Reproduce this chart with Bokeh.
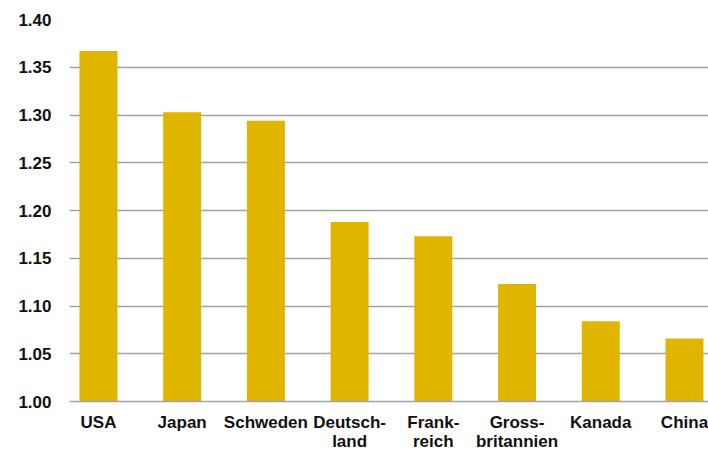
from bokeh.plotting import figure
from bokeh.models import FixedTicker, Range1d
from bokeh.embed import file_html
from bokeh.resources import INLINE

# Länder und Werte
countries = ["USA", "Japan", "Schweden", "Deutsch-\nland", "Frank-\nreich",
             "Gross-\nbritannien", "Kanada", "China"]
values = [1.367, 1.303, 1.294, 1.188, 1.173, 1.123, 1.084, 1.066]
y_ticks = [1.00, 1.05, 1.10, 1.15, 1.20, 1.25, 1.30, 1.35, 1.40]

BAR_COLOR = "#DFB500"
GRID_COLOR = "#A3A3A3"
TEXT_COLOR = "#111111"
FONT = "Liberation Sans"
FONT_SIZE = "17px"

xs = list(range(len(countries)))
BASE = y_ticks[0]

p = figure(width=708, height=453, output_backend="svg", toolbar_location=None,
           x_range=Range1d(-0.346, 7.287), y_range=Range1d(y_ticks[0], y_ticks[-1]),
           min_border_left=69, min_border_right=0, min_border_top=19,
           min_border_bottom=51)

p.vbar(x=xs, top=values, bottom=BASE, width=0.454, color=BAR_COLOR, line_color=None)

p.outline_line_color = None
p.background_fill_color = "white"
p.border_fill_color = "white"

# y axis: labels only, horizontal grid lines
p.yaxis.ticker = FixedTicker(ticks=y_ticks)
p.yaxis.major_label_overrides = {t: f"{t:.2f}" for t in y_ticks}
p.yaxis.axis_line_color = None
p.yaxis.major_tick_line_color = None
p.yaxis.minor_tick_line_color = None
p.yaxis.major_tick_out = 0
p.yaxis.major_tick_in = 0
p.yaxis.major_label_standoff = 18
p.yaxis.major_label_text_font = FONT
p.yaxis.major_label_text_font_style = "bold"
p.yaxis.major_label_text_font_size = FONT_SIZE
p.yaxis.major_label_text_color = TEXT_COLOR

p.ygrid.ticker = FixedTicker(ticks=y_ticks)
p.ygrid.grid_line_color = GRID_COLOR
p.ygrid.grid_line_width = 1.3
p.xgrid.grid_line_color = None

# x axis: base line and country names (two lines for long names)
p.xaxis.ticker = FixedTicker(ticks=xs)
p.xaxis.major_label_overrides = {i: c for i, c in zip(xs, countries)}
p.xaxis.axis_line_color = GRID_COLOR
p.xaxis.axis_line_width = 1.3
p.xaxis.major_tick_line_color = None
p.xaxis.minor_tick_line_color = None
p.xaxis.major_tick_out = 0
p.xaxis.major_tick_in = 0
p.xaxis.major_label_standoff = 11
p.xaxis.major_label_text_font = FONT
p.xaxis.major_label_text_font_style = "bold"
p.xaxis.major_label_text_font_size = FONT_SIZE
p.xaxis.major_label_text_color = TEXT_COLOR
p.xaxis.major_label_text_line_height = 1.0

open("out.html", "w").write(file_html(p, INLINE))
